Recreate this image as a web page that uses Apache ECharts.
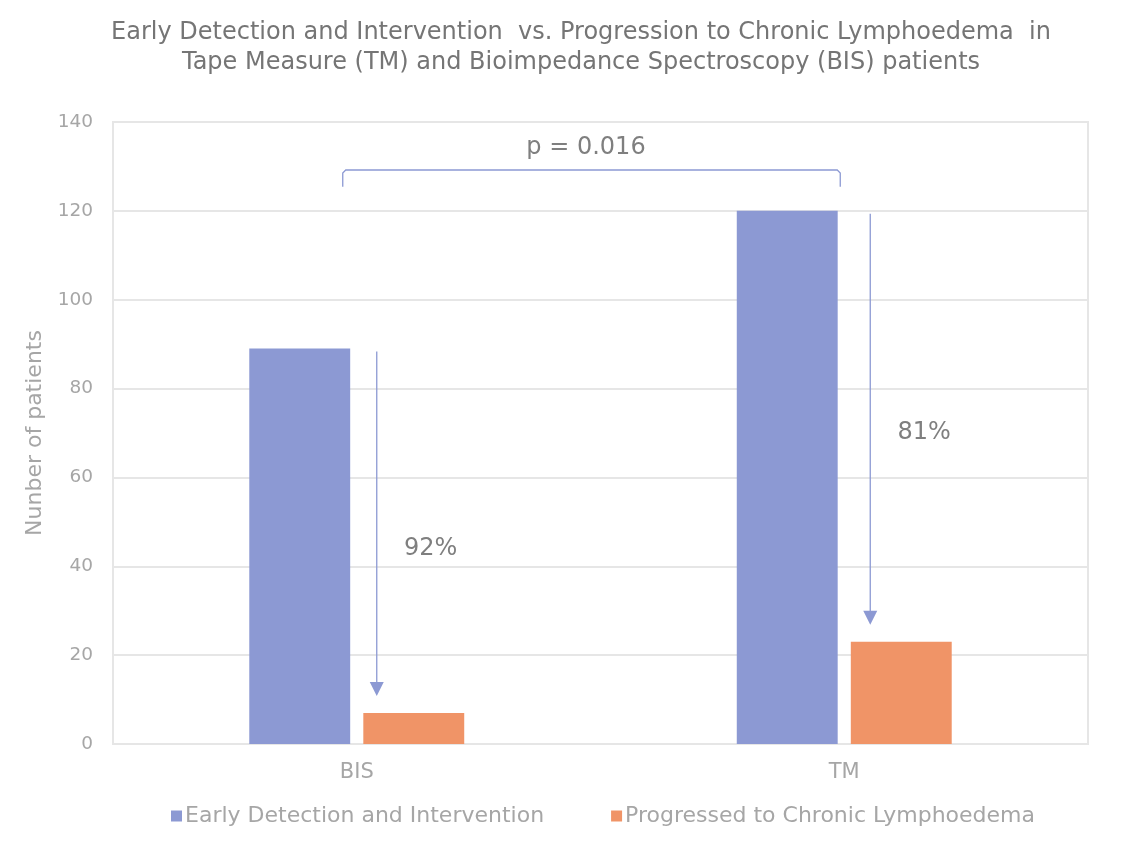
<!DOCTYPE html>
<html><head><meta charset="utf-8">
<script src="https://cdn.jsdelivr.net/npm/echarts@6/dist/echarts.min.js"></script>
<style>html,body{margin:0;padding:0;background:#fff}#c{width:1123px;height:847px}</style>
</head><body><div id="c"></div>
<script>
const categories = ['BIS', 'TM'];
const earlyDetection = [89, 120];
const progressed = [7, 23];
const percentLabels = ['92%', '81%'];
const percentLabelValues = [44, 70];
const pValueText = 'p = 0.016';
const bracketValue = 129.2;
const bracketEndValue = 125.4;

const FONT = '"DejaVu Sans", sans-serif';
const chart = echarts.init(document.getElementById('c'), null, {renderer: 'canvas'});
const blue = '#8c99d3';
const orange = '#f09467';

chart.setOption({
  animation: false,
  title: {
    text: 'Early Detection and Intervention  vs. Progression to Chronic Lymphoedema  in\nTape Measure (TM) and Bioimpedance Spectroscopy (BIS) patients',
    left: 576, top: 13, textAlign: 'center',
    textStyle: {fontFamily: FONT, fontSize: 24, fontWeight: 'normal', color: '#757575', lineHeight: 30}
  },
  grid: {left: 113, right: 35, top: 122, bottom: 103, show: true, borderColor: '#e6e6e6', borderWidth: 2, containLabel: false},
  legend: {
    bottom: 15, left: 166, itemGap: 67, itemWidth: 11, itemHeight: 11, icon: 'rect',
    textStyle: {fontFamily: FONT, fontSize: 22, color: '#a6a6a6', padding: [0, 0, 0, -2]},
    data: ['Early Detection and Intervention', 'Progressed to Chronic Lymphoedema']
  },
  xAxis: {
    type: 'category', data: categories,
    axisLine: {lineStyle: {color: '#e6e6e6', width: 2}},
    axisTick: {show: false},
    axisLabel: {fontFamily: FONT, fontSize: 21, color: '#a6a6a6', margin: 18}
  },
  yAxis: {
    type: 'value', min: 0, max: 140, interval: 20,
    name: 'Nunber of patients', nameLocation: 'middle', nameGap: 67, nameRotate: 90,
    nameTextStyle: {fontFamily: FONT, fontSize: 22, color: '#a6a6a6'},
    axisLine: {show: false}, axisTick: {show: false},
    axisLabel: {fontFamily: FONT, fontSize: 18.5, color: '#a6a6a6', margin: 20},
    splitLine: {lineStyle: {color: '#e6e6e6', width: 2}}
  },
  series: [
    {name: 'Early Detection and Intervention', type: 'bar', data: earlyDetection, barWidth: '20.7%', barGap: '13%', itemStyle: {color: blue}},
    {name: 'Progressed to Chronic Lymphoedema', type: 'bar', data: progressed, barWidth: '20.7%', barGap: '13%', itemStyle: {color: orange}}
  ]
});

function drawAnnotations() {
  const g = [];
  const arrowOffsets = [20, 26];
  const lineColor = '#8c99d3';
  categories.forEach((c, i) => {
    const top = chart.convertToPixel({gridIndex: 0}, [i, earlyDetection[i]]);
    const bot = chart.convertToPixel({gridIndex: 0}, [i, progressed[i]]);
    const x = top[0] + arrowOffsets[i];
    const y1 = top[1] + 3;
    const tip = bot[1] - 17;
    g.push({type: 'line', shape: {x1: x, y1: y1, x2: x, y2: tip - 10}, style: {stroke: lineColor, lineWidth: 1.3}, silent: true});
    g.push({type: 'polygon', shape: {points: [[x - 7, tip - 14], [x + 7, tip - 14], [x, tip]]}, style: {fill: lineColor}, silent: true});
    const lp = chart.convertToPixel({gridIndex: 0}, [i, percentLabelValues[i]]);
    g.push({type: 'text', x: x + 54, y: lp[1], style: {text: percentLabels[i], font: '24px ' + FONT, fill: '#7f7f7f', textAlign: 'center', textVerticalAlign: 'middle'}, silent: true});
  });
  const l = chart.convertToPixel({gridIndex: 0}, [0, bracketValue]);
  const r = chart.convertToPixel({gridIndex: 0}, [1, bracketValue]);
  const e = chart.convertToPixel({gridIndex: 0}, [0, bracketEndValue]);
  const xl = l[0] - 14, xr = r[0] - 4, yb = l[1], ye = e[1];
  g.push({type: 'polyline', shape: {points: [[xl, ye], [xl, yb + 3], [xl + 3, yb], [xr - 3, yb], [xr, yb + 3], [xr, ye]]}, style: {stroke: lineColor, lineWidth: 1.3, fill: null}, silent: true});
  g.push({type: 'text', x: 586, y: yb - 22, style: {text: pValueText, font: '24px ' + FONT, fill: '#7f7f7f', textAlign: 'center', textVerticalAlign: 'middle'}, silent: true});
  chart.setOption({graphic: g});
}
drawAnnotations();
</script></body></html>
